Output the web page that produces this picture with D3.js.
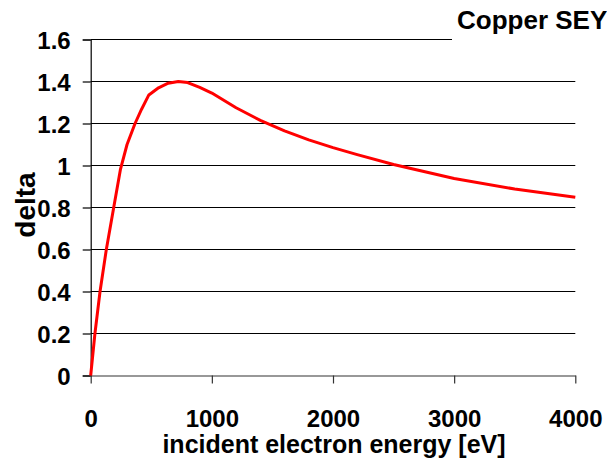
<!DOCTYPE html>
<html>
<head>
<meta charset="utf-8">
<script src="https://cdn.jsdelivr.net/npm/d3@7/dist/d3.min.js"></script>
<style>
  html, body { margin: 0; padding: 0; background: #fff; }
  svg { display: block; }
  text { font-family: "Liberation Sans", Arial, Helvetica, sans-serif; font-weight: bold; fill: #000; }
</style>
</head>
<body>
<script>
// Data
const energy = [0, 35, 77, 129, 190, 245, 300, 366, 420, 480, 560, 640, 723, 800, 900, 1000, 1200, 1400, 1600, 1800, 2000, 2200, 2500, 3000, 3500, 4000];
const delta  = [0, 0.2, 0.4, 0.6, 0.8, 0.98, 1.10, 1.2, 1.268, 1.336, 1.37, 1.392, 1.40, 1.395, 1.372, 1.345, 1.275, 1.215, 1.165, 1.122, 1.085, 1.052, 1.005, 0.938, 0.888, 0.849];
const xTicks = [0, 1000, 2000, 3000, 4000];
const yTicks = [0, 0.2, 0.4, 0.6, 0.8, 1, 1.2, 1.4, 1.6];
const yTickLabels = ["0", "0.2", "0.4", "0.6", "0.8", "1", "1.2", "1.4", "1.6"];
const title = "Copper SEY";
const xTitle = "incident electron energy [eV]";
const yTitle = "delta";

const W = 607, H = 465;
const x = d3.scaleLinear().domain([0, 4000]).range([90.7, 575.3]);
const y = d3.scaleLinear().domain([0, 1.6]).range([375.5, 39.5]);

const svg = d3.select("body").append("svg").attr("width", W).attr("height", H);

// Horizontal gridlines
svg.append("g").selectAll("line").data(yTicks.filter(d => d > 0)).join("line")
  .attr("x1", x(0)).attr("x2", x(4000))
  .attr("y1", d => y(d)).attr("y2", d => y(d))
  .attr("stroke", "#000").attr("stroke-width", 1.2);

// Y axis
const yAxis = svg.append("g").attr("transform", `translate(${x(0)},0)`)
  .call(d3.axisLeft(y).tickValues(yTicks).tickSize(8).tickPadding(12)
    .tickFormat((d, i) => yTickLabels[i]));
yAxis.select(".domain").attr("stroke", "#000").attr("stroke-width", 1.2);
yAxis.selectAll(".tick line").attr("stroke", "#000").attr("stroke-width", 1.2);
yAxis.selectAll(".tick text").attr("font-size", 24).attr("dy", "0.36em")
  .style("font-family", '"Liberation Sans", Arial, sans-serif').style("font-weight", "bold").attr("fill", "#000");

// X axis
const xAxis = svg.append("g").attr("transform", `translate(0,${y(0)})`)
  .call(d3.axisBottom(x).tickValues(xTicks).tickSize(8).tickSizeOuter(0).tickPadding(26)
    .tickFormat(d3.format("d")));
xAxis.select(".domain").attr("stroke", "#333").attr("stroke-width", 1.2);
xAxis.selectAll(".tick line").attr("stroke", "#333").attr("stroke-width", 1.2);
xAxis.selectAll(".tick text").attr("font-size", 24)
  .style("font-family", '"Liberation Sans", Arial, sans-serif').style("font-weight", "bold").attr("fill", "#000");

// Curve
const pts = energy.map((e, i) => [e, delta[i]]);
svg.append("path").datum(pts)
  .attr("fill", "none").attr("stroke", "#ff0000").attr("stroke-width", 3)
  .attr("stroke-linejoin", "round")
  .attr("d", d3.line().x(d => x(d[0])).y(d => y(d[1])).curve(d3.curveLinear));

// Title box (covers top gridline end)
svg.append("rect").attr("x", 452).attr("y", 0).attr("width", W - 452).attr("height", 50).attr("fill", "#fff");
svg.append("text").attr("x", 457).attr("y", 29).attr("font-size", 26).text(title);

// Axis titles
svg.append("text").attr("x", 334).attr("y", 453).attr("text-anchor", "middle").attr("font-size", 25).text(xTitle);
svg.append("text").attr("transform", "translate(35,205) rotate(-90)").attr("text-anchor", "middle")
  .attr("font-size", 28).text(yTitle);
</script>
</body>
</html>
